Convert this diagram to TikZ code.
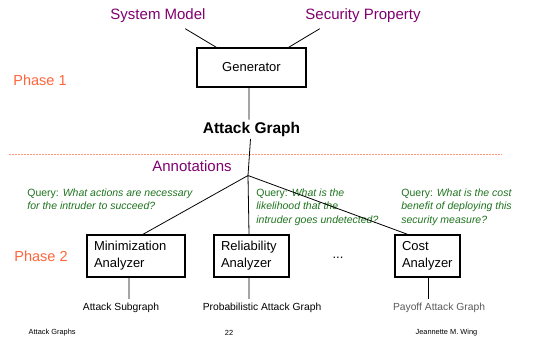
\documentclass[tikz,border=0pt]{standalone}
\usepackage{fontspec}
\setmainfont{Liberation Sans}
\usetikzlibrary{positioning}
\definecolor{slide-purple}{RGB}{128,0,112}
\definecolor{slide-orange}{RGB}{255,100,60}
\definecolor{slide-salmon}{RGB}{255,150,130}
\definecolor{slide-green}{RGB}{30,115,30}
\definecolor{slide-gray}{RGB}{90,90,90}
\begin{document}
\begin{tikzpicture}[x=1pt, y=-1pt, line width=0.8pt,
    input/.style={text=slide-purple, font=\fontsize{15}{18}\selectfont},
    phase/.style={text=slide-orange, font=\fontsize{14.5}{17}\selectfont},
    analyzer/.style={draw, line width=1.4pt, minimum height=42pt, inner xsep=7pt,
                     align=left, font=\fontsize{13}{17}\selectfont},
    query/.style={anchor=north west, align=left, text=slide-green,
                  font=\fontsize{10.5}{13.5}\selectfont, inner sep=0pt},
    result/.style={font=\fontsize{10.3}{12}\selectfont},
    footer/.style={font=\fontsize{7.4}{9}\selectfont}]
\useasboundingbox (0,0) rectangle (545,341);
% phase 1
\node[input] (model) at (158,16) {System Model};
\node[input] (prop) at (363,16) {Security Property};
\node[draw, line width=1.4pt, minimum width=109pt, minimum height=39pt,
      font=\fontsize{13}{16}\selectfont] (gen) at (251.5,67.5) {Generator};
\node[font=\bfseries\fontsize{15.5}{18}\selectfont, below =32pt of gen, inner sep=2pt] (graph) {Attack Graph};
\node[phase] (p1) at (40,80) {Phase 1};
\draw
([xshift=-24pt, yshift=-2pt]model.south east) -- ([xshift=20pt]gen.north west)
([xshift=18pt, yshift=-2pt]prop.south west) -- ([xshift=-18pt]gen.north east)
([xshift=-2.5pt]gen.south) -- ([xshift=-2.5pt]gen.south |- graph.north);
\draw[slide-salmon, dashed, line width=0.6pt, dash pattern=on 2pt off 1pt] (9,154) -- (502,154);
% phase 2
\node[input] (notes) at (192,166.5) {Annotations};
\coordinate (split) at (248,175.5);
\node[phase] (p2) at (41,256) {Phase 2};
\node[analyzer, text width=84pt] (min) at (136,256) {Minimization\\Analyzer};
\node[analyzer, text width=61pt] (rel) at (251.5,256) {Reliability\\Analyzer};
\node[analyzer, text width=51pt] (cost) at (427.5,256) {Cost\\Analyzer};
\node[font=\fontsize{13}{16}\selectfont] (dots) at (338,258) {...};
\node[query] (q1) at (27,188) {Query: \textit{What actions are necessary}\\\textit{for the intruder to succeed?}};
\node[query] (q2) at (256,188) {Query: \textit{What is the}\\\textit{likelihood that the}\\\textit{intruder goes undetected?}};
\node[query] (q3) at (401,188) {Query: \textit{What is the cost}\\\textit{benefit of deploying this}\\\textit{security measure?}};
\node[result] (sub) at (121,307.5) {Attack Subgraph};
\node[result] (prob) at (262,307.5) {Probabilistic Attack Graph};
\node[result, text=slide-gray] (pay) at (439,307.5) {Payoff Attack Graph};
\draw
([xshift=-1pt]graph.south) -- (split)
(split) -- ([xshift=7pt]min.north)
(split) -- ([xshift=-2.5pt]rel.north)
(split) -- ([xshift=-20pt]cost.north)
([xshift=-7pt]min.south) -- ([xshift=-7pt]min.south |- sub.north)
([xshift=-2.5pt]rel.south) -- ([xshift=-2.5pt]rel.south |- prob.north)
([xshift=1pt]cost.south) -- ([xshift=1pt]cost.south |- pay.north);
% footer
\node[footer, anchor=west] (title) at (25,333) {Attack Graphs};
\node[footer] (page) at (229,333) {22};
\node[footer, anchor=east] (author) at (481,333) {Jeannette M. Wing};
\end{tikzpicture}
\end{document}
